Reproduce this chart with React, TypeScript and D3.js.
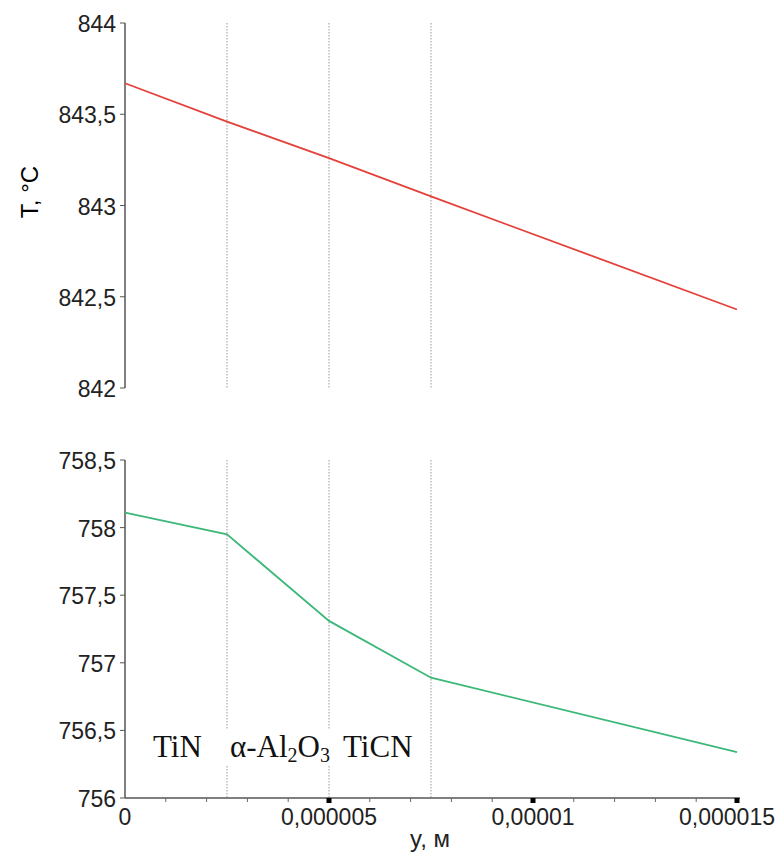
import React from "react";
import * as d3 from "d3";

// Coating depth positions (m) and temperatures (°C)
const depthPoints = [0, 0.0000025, 0.000005, 0.0000075, 0.000015];
const upperTemps = [843.67, 843.46, 843.26, 843.05, 842.43];
const lowerTemps = [758.11, 757.95, 757.31, 756.89, 756.34];

// Layer boundaries
const layerBounds = [0.0000025, 0.000005, 0.0000075];

// Axis ticks
const upperYTicks = [842, 842.5, 843, 843.5, 844];
const upperYLabels = ["842", "842,5", "843", "843,5", "844"];
const lowerYTicks = [756, 756.5, 757, 757.5, 758, 758.5];
const lowerYLabels = ["756", "756,5", "757", "757,5", "758", "758,5"];
const xMajorTicks = [0, 0.000005, 0.00001, 0.000015];
const xMajorLabels = ["0", "0,000005", "0,00001", "0,000015"];
const xMinorTicks = [1, 2, 3, 4, 6, 7, 8, 9, 11, 12, 13, 14].map((v) => v * 1e-6);

const SANS = "'Liberation Sans', Arial, sans-serif";
const SERIF = "'Liberation Serif', 'Times New Roman', serif";

export default function App() {
  const width = 777;
  const x = d3.scaleLinear().domain([0, 0.000015]).range([125, 737]);
  const yTop = d3.scaleLinear().domain([842, 844]).range([388, 23]);
  const yBot = d3.scaleLinear().domain([756, 758.5]).range([798, 460]);

  const topLine = d3
    .line<number>()
    .x((_, i) => x(depthPoints[i]))
    .y((d) => yTop(d));
  const botLine = d3
    .line<number>()
    .x((_, i) => x(depthPoints[i]))
    .y((d) => yBot(d));

  const axisColor = "#555";
  const tickFont = 23;

  // keep the outermost x label inside the canvas
  const xLabelPos = (t: number, label: string) => {
    const half = (label.length - 1) * 0.556 * tickFont * 0.5 + 0.14 * tickFont;
    return Math.min(x(t), width - 2 - half);
  };

  return (
    <svg
      width={width}
      height={854}
      style={{ position: "absolute", left: 0, top: 0, background: "#fff" }}
    >
      {/* layer boundaries, upper panel */}
      {layerBounds.map((b, i) => (
        <line
          key={"tb" + i}
          x1={x(b)}
          x2={x(b)}
          y1={yTop(844)}
          y2={yTop(842)}
          stroke="#999"
          strokeWidth={1}
          strokeDasharray="1.5,1.5"
        />
      ))}
      {/* layer boundaries, lower panel */}
      {layerBounds.map((b, i) => (
        <line
          key={"bb" + i}
          x1={x(b)}
          x2={x(b)}
          y1={yBot(758.5)}
          y2={yBot(756)}
          stroke="#999"
          strokeWidth={1}
          strokeDasharray="1.5,1.5"
        />
      ))}

      {/* upper y axis */}
      <line x1={125} x2={125} y1={yTop(844)} y2={yTop(842)} stroke={axisColor} strokeWidth={1.5} />
      {upperYTicks.map((t, i) => (
        <g key={"ut" + i}>
          <line x1={120} x2={125} y1={yTop(t)} y2={yTop(t)} stroke={axisColor} strokeWidth={1} />
          <text
            x={116}
            y={yTop(t) + 9}
            textAnchor="end"
            fontFamily={SANS}
            fontSize={tickFont}
            fill="#222"
          >
            {upperYLabels[i]}
          </text>
        </g>
      ))}

      {/* lower y axis */}
      <line x1={125} x2={125} y1={yBot(758.5)} y2={yBot(756)} stroke={axisColor} strokeWidth={1.5} />
      {lowerYTicks.map((t, i) => (
        <g key={"lt" + i}>
          <line x1={120} x2={125} y1={yBot(t)} y2={yBot(t)} stroke={axisColor} strokeWidth={1} />
          <text
            x={116}
            y={yBot(t) + 9}
            textAnchor="end"
            fontFamily={SANS}
            fontSize={tickFont}
            fill="#222"
          >
            {lowerYLabels[i]}
          </text>
        </g>
      ))}

      {/* x axis */}
      <line x1={125} x2={740} y1={798} y2={798} stroke={axisColor} strokeWidth={1.5} />
      {xMinorTicks.map((t, i) => (
        <line key={"mt" + i} x1={x(t)} x2={x(t)} y1={798} y2={802} stroke="#666" strokeWidth={1} />
      ))}
      {xMajorTicks.map((t, i) => (
        <g key={"xt" + i}>
          {t > 0 && <rect x={x(t) - 2.5} y={798} width={5} height={5} fill="#000" />}
          <text
            x={xLabelPos(t, xMajorLabels[i])}
            y={825}
            textAnchor="middle"
            fontFamily={SANS}
            fontSize={tickFont}
            fill="#222"
          >
            {xMajorLabels[i]}
          </text>
        </g>
      ))}
      <text x={430} y={847} textAnchor="middle" fontFamily={SANS} fontSize={24} fill="#222">
        y, м
      </text>

      {/* y axis title */}
      <text
        transform="translate(38,192) rotate(-90)"
        textAnchor="middle"
        fontFamily={SANS}
        fontSize={24}
        fill="#000"
      >
        T, °C
      </text>

      {/* data lines */}
      <path d={topLine(upperTemps) || ""} fill="none" stroke="#e5413b" strokeWidth={1.8} />
      <path d={botLine(lowerTemps) || ""} fill="none" stroke="#3cb878" strokeWidth={1.8} />

      {/* layer names */}
      <rect x={147} y={729} width={272} height={36} fill="#fff" />
      <g fontFamily={SERIF} fontSize={31} fill="#111">
        <text x={153} y={757}>TiN</text>
        <text x={230} y={757}>
          α-Al
          <tspan fontSize={20} dy={5}>2</tspan>
          <tspan dy={-5}>O</tspan>
          <tspan fontSize={20} dy={5}>3</tspan>
        </text>
        <text x={343} y={757}>TiCN</text>
      </g>
    </svg>
  );
}
